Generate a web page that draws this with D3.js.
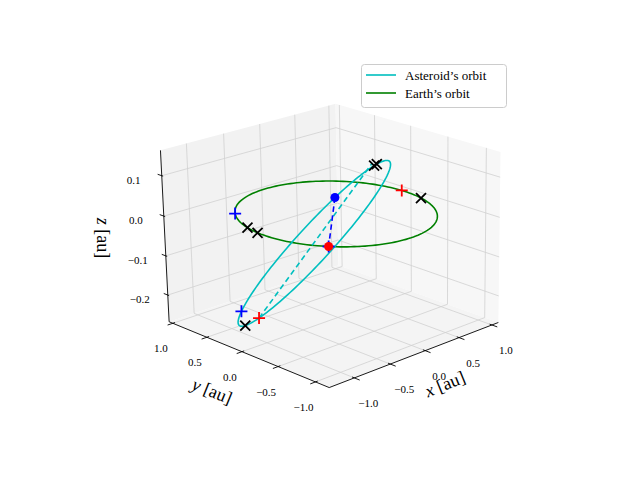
<!DOCTYPE html>
<html><head><meta charset="utf-8">
<script src="https://cdn.jsdelivr.net/npm/d3@7"></script>
<style>body{margin:0;background:#fff}svg{display:block}text{font-family:"Liberation Serif","DejaVu Serif",serif}</style>
</head><body><svg id="c" width="640" height="480"></svg>
<script>
// ---- data ----
const xDomain = [-1.34, 1.1];
const yDomain = [-1.18, 1.055];
const zDomain = [-0.269, 0.162];
const xTicks = [-1.0, -0.5, 0.0, 0.5, 1.0];
const yTicks = [-1.0, -0.5, 0.0, 0.5, 1.0];
const zTicks = [-0.2, -0.1, 0.0, 0.1];
// Earth orbit: radius (au)
const earthRadius = [1.0];
// Asteroid orbit: centre, semi-major vector, semi-minor vector (au)
const astCenter = [-0.245, 0.085, -0.07];
const astAxisA = [0.75, -0.225, 0.178];
const astAxisB = [-0.253, -0.743, 0.096];
// markers on Earth orbit (angle, degrees)
const earthBlackX = [165, 175, -15];
const earthRedPlus = [2];
const earthBluePlus = [140];
const earthNode = [-140];
// markers on asteroid orbit (eccentric anomaly, rad)
const astBlackX = [-0.1, -0.16, 3.14];
const astRedPlus = [2.82];
const astBluePlus = [-2.4];
const astBlueDot = [-0.8];
const apsidalScale = [-0.48];
const legendLabels = ["Asteroid\u2019s orbit", "Earth\u2019s orbit"];

// ---- projection (fit a camera to the box) ----
const sx = d3.scaleLinear().domain(xDomain).range([0,1]);
const sy = d3.scaleLinear().domain(yDomain).range([0,1]);
const sz = d3.scaleLinear().domain(zDomain).range([0,1]);
const fitPts = [
 [[0,0,0],[332,388]],[[1,0,0],[497,322]],[[0,1,0],[168,320]],[[1,1,0],[340,268]],
 [[1,0,1],[502,150]],[[0,1,1],[162,152]],[[1,1,1],[335,103]],
 [[sx(-0.707),sy(-0.707),sz(0)],[330,248]],[[sx(0.707),sy(0.707),sz(0)],[337,182]],
 [[0,1,sz(0.1)],[163,176]],[[0,1,sz(-0.2)],[165,293]],
 [[sx(-1),0,0],[357,379]],[[sx(1),0,0],[490,324]],[[0,sy(1),0],[172,322]],[[0,sy(-1),0],[318,383]]
];
function solveP(){
  const A=[],b=[];
  fitPts.forEach(([[X,Y,Z],[u,v]])=>{
    A.push([X,Y,Z,1,0,0,0,0,-u*X,-u*Y,-u*Z]);b.push(u);
    A.push([0,0,0,0,X,Y,Z,1,-v*X,-v*Y,-v*Z]);b.push(v);
  });
  const n=11,M=[];
  for(let i=0;i<n;i++){M.push([]);for(let j=0;j<n;j++){let s=0;for(let k=0;k<A.length;k++)s+=A[k][i]*A[k][j];M[i].push(s);}
    let s=0;for(let k=0;k<A.length;k++)s+=A[k][i]*b[k];M[i].push(s);}
  for(let i=0;i<n;i++){let p=i;for(let r=i+1;r<n;r++)if(Math.abs(M[r][i])>Math.abs(M[p][i]))p=r;[M[i],M[p]]=[M[p],M[i]];
    for(let r=0;r<n;r++){if(r===i)continue;const f=M[r][i]/M[i][i];for(let c=i;c<=n;c++)M[r][c]-=f*M[i][c];}}
  return M.map((r,i)=>r[n]/r[i]);
}
const P=solveP();
function projN(X,Y,Z){const d=P[8]*X+P[9]*Y+P[10]*Z+1;return[(P[0]*X+P[1]*Y+P[2]*Z+P[3])/d,(P[4]*X+P[5]*Y+P[6]*Z+P[7])/d];}
const proj=([x,y,z])=>projN(sx(x),sy(y),sz(z));
const line=d3.line();
const svg=d3.select("#c");
const [x0,x1]=xDomain,[y0,y1]=yDomain,[z0,z1]=zDomain;
const fmt=t=>d3.format(".1f")(t).replace("-","\u2212");

// panes
const pane=(pts,fill)=>svg.append("path").attr("d",line(pts.map(proj))+"Z").attr("fill",fill).attr("stroke","none");
pane([[x0,y1,z0],[x1,y1,z0],[x1,y1,z1],[x0,y1,z1]],"#f2f2f2");
pane([[x1,y0,z0],[x1,y1,z0],[x1,y1,z1],[x1,y0,z1]],"#f7f7f7");
pane([[x0,y0,z0],[x1,y0,z0],[x1,y1,z0],[x0,y1,z0]],"#f4f4f4");
// grid
const g=svg.append("g").attr("stroke","#d0d0d0").attr("stroke-width",0.8).attr("fill","none");
const seg=(a,b,sel)=>sel.append("path").attr("d",line([proj(a),proj(b)]));
xTicks.forEach(t=>{seg([t,y0,z0],[t,y1,z0],g);seg([t,y1,z0],[t,y1,z1],g);});
yTicks.forEach(t=>{seg([x0,t,z0],[x1,t,z0],g);seg([x1,t,z0],[x1,t,z1],g);});
zTicks.forEach(t=>{seg([x0,y1,t],[x1,y1,t],g);seg([x1,y0,t],[x1,y1,t],g);});
// axes
const ax=svg.append("g").attr("stroke","#000").attr("stroke-width",0.9).attr("fill","none");
seg([x0,y0,z0],[x1,y0,z0],ax);seg([x0,y0,z0],[x0,y1,z0],ax);seg([x0,y1,z0],[x0,y1,z1],ax);
const tl=svg.append("g").attr("font-size","11px").attr("text-anchor","middle");
xTicks.forEach(t=>{seg([t,y0+0.03,z0],[t,y0-0.07,z0],ax);const p=proj([t,y0,z0]);
  tl.append("text").attr("x",p[0]+14).attr("y",p[1]+29).text(fmt(t));});
yTicks.forEach(t=>{seg([x0+0.03,t,z0],[x0-0.07,t,z0],ax);const p=proj([x0,t,z0]);
  tl.append("text").attr("x",p[0]-12).attr("y",p[1]+29).text(fmt(t));});
zTicks.forEach(t=>{seg([x0,y1-0.02,t],[x0,y1+0.06,t],ax);const p=proj([x0,y1,t]);
  tl.append("text").attr("x",p[0]-28).attr("y",p[1]+8).text(fmt(t));});
// axis labels
const lab=(p,rot,txt)=>{const t=svg.append("text").attr("font-size","18px").attr("text-anchor","middle")
  .attr("transform",`translate(${p[0]},${p[1]}) rotate(${rot})`);t.append("tspan").attr("font-style","italic").text(txt);t.append("tspan").text(" [au]");};
{const p=proj([0,y0,z0]);lab([p[0]+22,p[1]+39],-22,"x");}
{const p=proj([x0,0,z0]);lab([p[0]-32,p[1]+45],22,"y");}
{const p=proj([x0,y1,0]);lab([p[0]-67,p[1]+22],90,"z");}

// orbits
const earthPt=deg=>{const a=deg*Math.PI/180;return[earthRadius[0]*Math.cos(a),earthRadius[0]*Math.sin(a),0];};
const astPt=E=>[0,1,2].map(i=>astCenter[i]+astAxisA[i]*Math.cos(E)+astAxisB[i]*Math.sin(E));
const earthPath=d3.range(0,361,2).map(d=>proj(earthPt(d)));
const astPath=d3.range(0,361,2).map(d=>proj(astPt(d*Math.PI/180)));
svg.append("path").attr("d",line(earthPath)).attr("fill","none").attr("stroke","#008000").attr("stroke-width",1.6);
svg.append("path").attr("d",line(astPath)).attr("fill","none").attr("stroke","#00bfbf").attr("stroke-width",1.6);
const rp=astPt(astRedPlus[0]);
svg.append("path").attr("d",line([proj(rp),proj(rp.map(v=>v*apsidalScale[0]))])).attr("fill","none")
  .attr("stroke","#00bfbf").attr("stroke-width",1.6).attr("stroke-dasharray","5.5,3.5");
const nodeP=earthPt(earthNode[0]),dotP=astPt(astBlueDot[0]);
svg.append("path").attr("d",line([proj(dotP),proj(nodeP)])).attr("fill","none")
  .attr("stroke","#0000ff").attr("stroke-width",1.6).attr("stroke-dasharray","5.5,3.5");
// markers
const mk=svg.append("g").attr("stroke-width",1.8).attr("fill","none");
const cross=(p,c)=>{const[a,b]=proj(p);mk.append("path").attr("d",`M${a-5},${b-5}L${a+5},${b+5}M${a-5},${b+5}L${a+5},${b-5}`).attr("stroke",c);};
const plus=(p,c)=>{const[a,b]=proj(p);mk.append("path").attr("d",`M${a-6},${b}L${a+6},${b}M${a},${b-6}L${a},${b+6}`).attr("stroke",c);};
const dot=(p,c,r)=>{const[a,b]=proj(p);svg.append("circle").attr("cx",a).attr("cy",b).attr("r",r).attr("fill",c);};
dot(nodeP,"#ff0000",4.5);dot(dotP,"#0000ff",4.5);
earthBlackX.forEach(d=>cross(earthPt(d),"#000"));
earthRedPlus.forEach(d=>plus(earthPt(d),"#ff0000"));
earthBluePlus.forEach(d=>plus(earthPt(d),"#0000ff"));
plus(nodeP,"#0000ff");
astBlackX.forEach(e=>cross(astPt(e),"#000"));
astRedPlus.forEach(e=>plus(astPt(e),"#ff0000"));
astBluePlus.forEach(e=>plus(astPt(e),"#0000ff"));

// legend
const lg=svg.append("g");
lg.append("rect").attr("x",361.5).attr("y",64.5).attr("width",145).attr("height",43).attr("rx",3)
  .attr("fill","#fff").attr("fill-opacity",0.8).attr("stroke","#cccccc");
[["#00bfbf",legendLabels[0]],["#008000",legendLabels[1]]].forEach(([c,t],i)=>{
  const y=75+i*18;
  lg.append("line").attr("x1",366).attr("x2",396).attr("y1",y).attr("y2",y).attr("stroke",c).attr("stroke-width",1.6);
  lg.append("text").attr("x",405).attr("y",y+4.5).attr("font-size","13px").text(t);
});
</script></body></html>
